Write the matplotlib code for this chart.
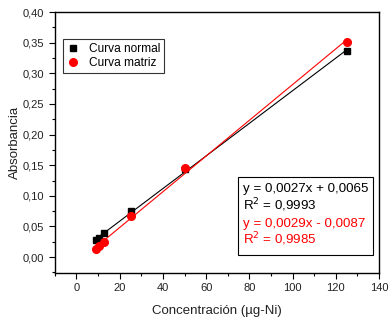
import matplotlib
matplotlib.use("Agg")
import matplotlib.pyplot as plt
import numpy as np
from matplotlib.ticker import MultipleLocator, FixedLocator, FixedFormatter
from matplotlib.patches import Rectangle

plt.rcParams['font.family'] = ['Liberation Sans', 'DejaVu Sans']

# Data
conc_normal = [9.2, 10.4, 12.8, 25.2, 50.3, 125.0]
abs_normal = [0.028, 0.031, 0.0385, 0.0755, 0.143, 0.3365]
conc_matriz = [9.2, 10.4, 12.8, 25.2, 50.3, 125.0]
abs_matriz = [0.013, 0.0175, 0.025, 0.0675, 0.1455, 0.351]

series_labels = ["Curva normal", "Curva matriz"]
eq_lines = ["y = 0,0027x + 0,0065", "R$^2$ = 0,9993", "y = 0,0029x - 0,0087", "R$^2$ = 0,9985"]

xticks = [0, 20, 40, 60, 80, 100, 120, 140]
xticklabels = ["0", "20", "40", "60", "80", "100", "120", "140"]
yticks = [0.00, 0.05, 0.10, 0.15, 0.20, 0.25, 0.30, 0.35, 0.40]
yticklabels = ["0,00", "0,05", "0,10", "0,15", "0,20", "0,25", "0,30", "0,35", "0,40"]

fig = plt.figure(figsize=(3.92, 3.21), dpi=100)
ax = fig.add_axes([0.140, 0.1495, 0.827, 0.813])

# fit lines
for xs, ys, c in [(conc_normal, abs_normal, 'black'), (conc_matriz, abs_matriz, 'red')]:
    p = np.polyfit(xs, ys, 1)
    xl = np.array([min(xs), max(xs)])
    ax.plot(xl, np.polyval(p, xl), color=c, lw=0.8, zorder=2)

ax.plot(conc_normal, abs_normal, 's', color='black', ms=5, label=series_labels[0], zorder=3)
ax.plot(conc_matriz, abs_matriz, 'o', color='red', ms=5.5, label=series_labels[1], zorder=4)

ax.set_xlim(-10, 140)
ax.set_ylim(-0.026, 0.40)
ax.xaxis.set_major_locator(FixedLocator(xticks))
ax.xaxis.set_major_formatter(FixedFormatter(xticklabels))
ax.yaxis.set_major_locator(FixedLocator(yticks))
ax.yaxis.set_major_formatter(FixedFormatter(yticklabels))
ax.xaxis.set_minor_locator(MultipleLocator(10))
ax.yaxis.set_minor_locator(MultipleLocator(0.025))
ax.tick_params(which='both', direction='out', top=False, right=False, labelsize=8,
               colors='black', labelcolor='#222222', width=0.8)
ax.tick_params(which='major', length=4)
ax.tick_params(which='minor', length=2.5)
for s in ax.spines.values():
    s.set_linewidth(1.0)

ax.set_xlabel("Concentración (µg-Ni)", fontsize=9.5, color='#222222', va='center')
ax.set_ylabel("Absorbancia", fontsize=9.5, color='#222222', va='center')
ax.xaxis.set_label_coords(0.5, -0.146)
ax.yaxis.set_label_coords(-0.123, 0.5)

leg = ax.legend(loc='upper left', bbox_to_anchor=(0.025, 0.895), fontsize=8.6, frameon=True,
                fancybox=False, edgecolor='black', handlelength=1.0, handletextpad=0.9,
                borderpad=0.3, labelspacing=0.2, borderaxespad=0)
leg.get_frame().set_linewidth(0.8)

# equation box
ax.add_patch(Rectangle((0.565, 0.069), 0.416, 0.299, transform=ax.transAxes, fill=False,
                       edgecolor='black', lw=0.8, zorder=5))
colors = ['black', 'black', 'red', 'red']
baselines = [0.3115, 0.244, 0.1774, 0.111]
for t, c, yb in zip(eq_lines, colors, baselines):
    ax.text(0.581, yb, t, transform=ax.transAxes, color=c, fontsize=9.6,
            va='baseline', ha='left', zorder=6)

fig.savefig("out.png", dpi=100)
